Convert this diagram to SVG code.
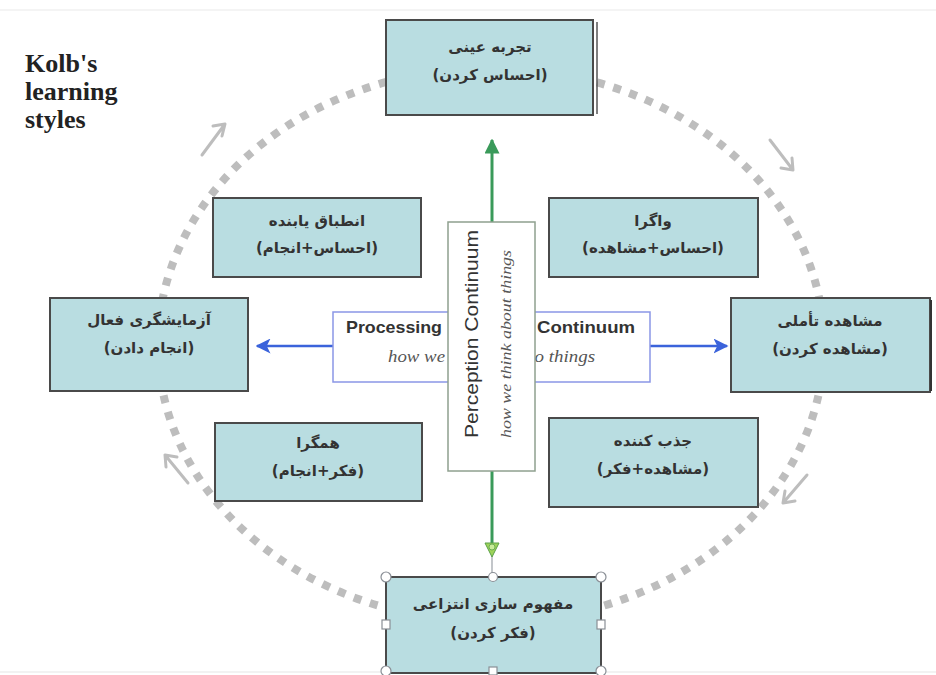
<svg xmlns="http://www.w3.org/2000/svg" width="936" height="675" viewBox="0 0 936 675">
<style>
.box{fill:#b9dde1;stroke:#4a4a4a;stroke-width:2}
.fa{font-family:"DejaVu Sans",sans-serif;font-size:15px;font-weight:bold;fill:#333;text-anchor:middle;direction:rtl}
.title{font-family:"Liberation Serif",serif;font-size:26px;font-weight:bold;fill:#222}
.cyc{fill:none;stroke:#bdbdbd;stroke-width:3;stroke-linecap:round;stroke-linejoin:round}
.hdl{fill:#fff;stroke:#8a8f96;stroke-width:1.2}
.en{font-family:"Liberation Sans",Arial,sans-serif;font-size:17px;font-weight:bold;fill:#333}
.it{font-family:"Liberation Serif",serif;font-size:17px;font-style:italic;fill:#555}
</style>
<defs>
<marker id="ab" viewBox="0 0 10 10" refX="9" refY="5" markerWidth="6" markerHeight="6" orient="auto"><path d="M0,0 L10,5 L0,10 L2.5,5 Z" fill="#3b63db"/></marker>
<marker id="ag" viewBox="0 0 10 10" refX="9" refY="5" markerWidth="5" markerHeight="5" orient="auto"><path d="M0,0 L10,5 L0,10 Z" fill="#3a9a5a"/></marker>
</defs>
<rect width="936" height="675" fill="#fff"/>
<line x1="0" y1="10" x2="936" y2="10" stroke="#f0f0f0" stroke-width="1.5"/>
<line x1="0" y1="672" x2="936" y2="672" stroke="#eeeeee" stroke-width="1.5"/>

<g id="title">
<text class="title" x="25" y="72">Kolb's</text>
<text class="title" x="25" y="100">learning</text>
<text class="title" x="25" y="128">styles</text>
</g>

<g id="cycle">
<ellipse cx="491" cy="345" rx="333" ry="277" fill="none" stroke="#bdbdbd" stroke-width="8" stroke-dasharray="8 9"/>
<path class="cyc" d="M202,155 L225,124 M213,126 L225,124 L222,136"/>
<path class="cyc" d="M770,140 L793,170 M781,168 L793,170 L792,158"/>
<path class="cyc" d="M807,475 L783,503 M785,491 L783,503 L795,501"/>
<path class="cyc" d="M188,483 L165,455 M166,467 L165,455 L177,457"/>
</g>

<g id="connectors">
<line x1="492" y1="222" x2="492" y2="140" stroke="#3a9a5a" stroke-width="3" marker-end="url(#ag)"/>
<line x1="492" y1="471" x2="492" y2="545" stroke="#3a9a5a" stroke-width="3"/>
<line x1="492" y1="555" x2="492" y2="577" stroke="#9aa0a6" stroke-width="1.2"/>
<path d="M485,543 L499,543 L492,557 Z" fill="#9ed35a" stroke="#5aa04a" stroke-width="1"/>
<circle cx="492" cy="547" r="3" fill="#c8ec9a" stroke="#5aa04a" stroke-width="0.8"/>
<line x1="333" y1="346" x2="257" y2="346" stroke="#3b63db" stroke-width="2.5" marker-end="url(#ab)"/>
<line x1="650" y1="346" x2="727" y2="346" stroke="#3b63db" stroke-width="2.5" marker-end="url(#ab)"/>
</g>

<g id="processing">
<rect x="333" y="312" width="317" height="70" fill="#fff" stroke="#8a96e6" stroke-width="1.5"/>
<text class="en" x="346" y="333" textLength="96" lengthAdjust="spacingAndGlyphs">Processing</text>
<text class="en" x="537" y="333" textLength="98" lengthAdjust="spacingAndGlyphs">Continuum</text>
<text class="it" x="388" y="362" textLength="57" lengthAdjust="spacingAndGlyphs">how we</text>
<text class="it" x="525" y="362" textLength="70" lengthAdjust="spacingAndGlyphs">do things</text>
</g>

<g id="perception">
<rect x="448" y="222" width="87" height="249" fill="#fff" stroke="#8fa08f" stroke-width="1.5"/>
<text transform="translate(478,438) rotate(-90)" font-family="Liberation Sans,Arial,sans-serif" font-size="18" fill="#333" textLength="208" lengthAdjust="spacingAndGlyphs">Perception Continuum</text>
<text transform="translate(511,438) rotate(-90)" font-family="Liberation Serif,serif" font-size="15" font-style="italic" fill="#555" textLength="188" lengthAdjust="spacingAndGlyphs">how we think about things</text>
</g>

<g id="n-top">
<line x1="597" y1="22" x2="597" y2="114" stroke="#555" stroke-width="1.5"/>
<rect class="box" x="386" y="20" width="207" height="95"/>
<text class="fa" x="490" y="52">تجربه عینی</text>
<text class="fa" x="490" y="80">(احساس کردن)</text>
</g>

<g id="n-left">
<rect class="box" x="50" y="298" width="198" height="93"/>
<text class="fa" x="149" y="325">آزمایشگری فعال</text>
<text class="fa" x="149" y="353">(انجام دادن)</text>
</g>

<g id="n-right">
<rect class="box" x="731" y="298" width="199" height="94"/>
<line x1="931" y1="300" x2="931" y2="391" stroke="#333" stroke-width="2"/>
<text class="fa" x="830" y="326">مشاهده تأملی</text>
<text class="fa" x="830" y="354">(مشاهده کردن)</text>
</g>

<g id="n-bottom">
<rect class="box" x="386" y="577" width="215" height="96"/>
<text class="fa" x="493" y="609">مفهوم سازی انتزاعی</text>
<text class="fa" x="493" y="638">(فکر کردن)</text>
<circle class="hdl" cx="386" cy="577" r="5"/>
<circle class="hdl" cx="493" cy="577" r="4.5"/>
<circle class="hdl" cx="601" cy="577" r="5"/>
<rect class="hdl" x="382" y="620" width="8" height="9"/>
<rect class="hdl" x="597" y="620" width="8" height="9"/>
<circle class="hdl" cx="386" cy="671" r="5"/>
<rect class="hdl" x="489" y="667" width="8" height="8"/>
<circle class="hdl" cx="601" cy="671" r="5"/>
</g>

<g id="n-accommodating">
<rect class="box" x="213" y="198" width="208" height="79"/>
<text class="fa" x="317" y="226">انطباق یابنده</text>
<text class="fa" x="317" y="253">(احساس+انجام)</text>
</g>

<g id="n-diverging">
<rect class="box" x="549" y="198" width="209" height="79"/>
<text class="fa" x="653" y="226">واگرا</text>
<text class="fa" x="653" y="253">(احساس+مشاهده)</text>
</g>

<g id="n-converging">
<rect class="box" x="215" y="423" width="207" height="78"/>
<text class="fa" x="318" y="448">همگرا</text>
<text class="fa" x="318" y="476">(فکر+انجام)</text>
</g>

<g id="n-assimilating">
<rect class="box" x="549" y="418" width="209" height="89"/>
<text class="fa" x="653" y="446">جذب کننده</text>
<text class="fa" x="653" y="474">(مشاهده+فکر)</text>
</g>
</svg>
